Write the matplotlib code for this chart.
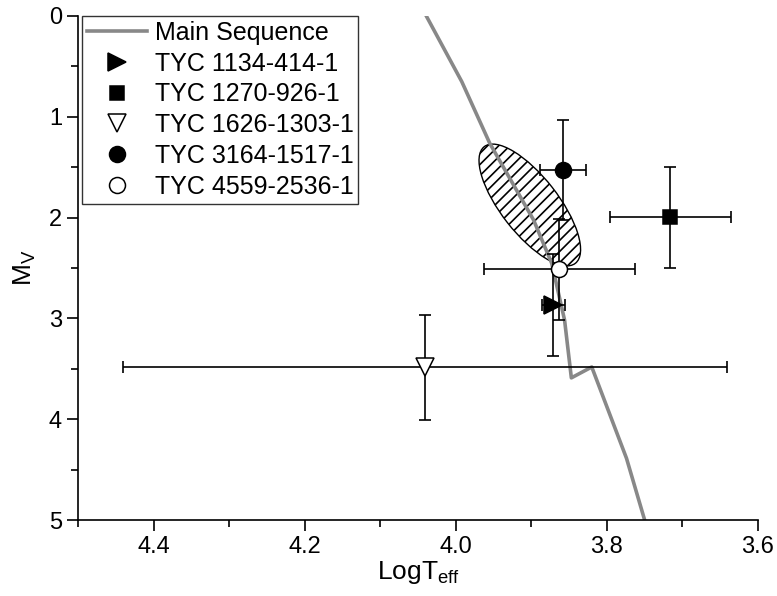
import matplotlib
matplotlib.use("Agg")
import matplotlib.pyplot as plt
from matplotlib.patches import Ellipse
from matplotlib.transforms import ScaledTranslation
from matplotlib.ticker import MultipleLocator

plt.rcParams['font.family'] = ['Liberation Sans', 'DejaVu Sans']
plt.rcParams['font.size'] = 17
plt.rcParams['mathtext.fontset'] = 'custom'
plt.rcParams['mathtext.rm'] = 'Liberation Sans'
plt.rcParams['mathtext.it'] = 'Liberation Sans:italic'
plt.rcParams['hatch.linewidth'] = 1.2

# main sequence track
ms_logt = [4.039, 3.992, 3.955, 3.897, 3.873, 3.856, 3.847, 3.820, 3.774, 3.750]
ms_mv = [0.0, 0.652, 1.263, 2.024, 2.453, 3.016, 3.59, 3.482, 4.388, 5.0]

# stars
names = ["TYC 1134-414-1", "TYC 1270-926-1", "TYC 1626-1303-1",
         "TYC 3164-1517-1", "TYC 4559-2536-1"]
logt = [3.871, 3.716, 4.041, 3.858, 3.863]
logt_err = [0.015, 0.08, 0.40, 0.03, 0.10]
mv = [2.867, 1.997, 3.485, 1.528, 2.513]
mv_err = [0.51, 0.5, 0.52, 0.5, 0.5]
markers = ['>', 's', 'v', 'o', 'o']
faces = ['black', 'black', 'white', 'black', 'white']
msizes = [13, 10, 13, 11.5, 11.5]

# hatched region (centre)
ell_logt = 3.902
ell_mv = 1.875

fig = plt.figure(figsize=(7.77, 5.96), dpi=100)
ax = fig.add_axes([0.1004, 0.1275, 0.8751, 0.8457])

ax.set_xlim(4.5, 3.6)
ax.set_ylim(5, 0)

ell = Ellipse((0, 0), width=0.57, height=1.48, angle=38,
              facecolor='white', edgecolor='black', lw=1.0, hatch='///',
              transform=fig.dpi_scale_trans + ScaledTranslation(ell_logt, ell_mv, ax.transData),
              zorder=1)
ax.add_patch(ell)

ax.plot(ms_logt, ms_mv, color='#888888', lw=2.6, label='Main Sequence', zorder=2)

for i in range(len(names)):
    ax.errorbar(logt[i], mv[i], xerr=logt_err[i], yerr=mv_err[i], fmt='none',
                ecolor='black', elinewidth=1.2, capsize=4, capthick=1.2, zorder=3)
    ax.plot(logt[i], mv[i], linestyle='none', marker=markers[i], ms=msizes[i],
            mfc=faces[i], mec='black', mew=1.1, label=names[i], zorder=4)

ax.spines['top'].set_visible(False)
ax.spines['right'].set_visible(False)
ax.spines['left'].set_linewidth(1.2)
ax.spines['bottom'].set_linewidth(1.2)

ax.xaxis.set_major_locator(MultipleLocator(0.2))
ax.xaxis.set_minor_locator(MultipleLocator(0.1))
ax.yaxis.set_major_locator(MultipleLocator(1))
ax.yaxis.set_minor_locator(MultipleLocator(0.5))
ax.tick_params(which='major', direction='out', length=8, width=1.2, labelsize=17)
ax.tick_params(which='minor', direction='out', length=5, width=1.2)
ax.set_xticks([4.4, 4.2, 4.0, 3.8, 3.6])
ax.set_xticklabels(['4.4', '4.2', '4.0', '3.8', '3.6'])

ax.set_xlabel(r'LogT$_{\mathrm{eff}}$', fontsize=19, labelpad=1)
ax.set_ylabel(r'M$_{\mathrm{V}}$', fontsize=19, labelpad=8)

leg = ax.legend(loc='upper left', bbox_to_anchor=(0.006, 1.0), borderaxespad=0,
                fancybox=False, edgecolor='#333333', framealpha=1,
                handlelength=2.4, handletextpad=0.3, labelspacing=0.27,
                borderpad=0.2, fontsize=18)
leg.get_frame().set_linewidth(1.0)

fig.savefig("out.png", dpi=100)
